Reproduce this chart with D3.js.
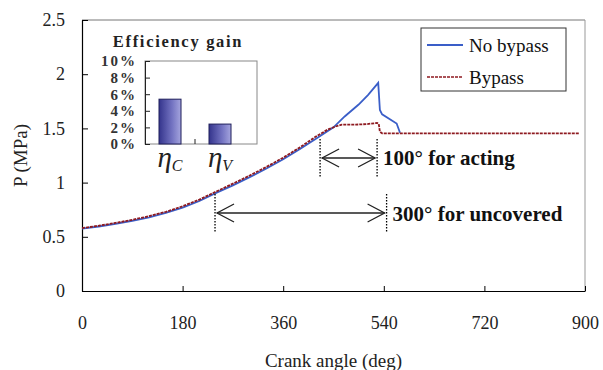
<!DOCTYPE html>
<html>
<head>
<meta charset="utf-8">
<script src="https://cdn.jsdelivr.net/npm/d3@7"></script>
<style>
  body { margin: 0; background: #fff; }
  svg text { font-family: "Liberation Serif", "DejaVu Serif", serif !important; }
</style>
</head>
<body>
<svg id="chart" width="603" height="370"></svg>
<script>
// pressure traces
var noBypassDeg = [0, 30, 60, 90, 120, 150, 180, 210, 240, 270, 300, 330, 360, 390, 420, 450, 470, 495, 512, 530, 533, 537, 563, 569];
var noBypassP   = [0.575, 0.595, 0.62, 0.648, 0.68, 0.72, 0.77, 0.83, 0.905, 0.975, 1.05, 1.13, 1.215, 1.31, 1.41, 1.51, 1.61, 1.72, 1.81, 1.92, 1.67, 1.63, 1.545, 1.46];

var bypassDeg = [0, 30, 60, 90, 120, 150, 180, 210, 240, 270, 300, 330, 360, 390, 420, 440, 455, 465, 490, 510, 528, 531, 533, 537, 890];
var bypassP   = [0.58, 0.602, 0.628, 0.657, 0.69, 0.73, 0.782, 0.843, 0.917, 0.99, 1.065, 1.145, 1.23, 1.325, 1.43, 1.49, 1.52, 1.535, 1.535, 1.54, 1.55, 1.54, 1.47, 1.455, 1.455];

var xTicks = [0, 180, 360, 540, 720, 900];
var yTicks = [0, 0.5, 1, 1.5, 2, 2.5];

// inset bar chart
var gainCats = ["C", "V"];
var gainVals = [5.4, 2.4];
var gainTicks = [0, 2, 4, 6, 8, 10];

// annotations (deg)
var acting = [426, 528];
var uncovered = [238, 545];

var svg = d3.select("#chart");
svg.append("rect").attr("width", 603).attr("height", 370).attr("fill", "#fff");

var x = d3.scaleLinear().domain([0, 900]).range([82, 585]);
var y = d3.scaleLinear().domain([0, 2.5]).range([291, 20]);

// frame: top and right in grey
svg.append("line").attr("x1", x(0)).attr("x2", x(900)).attr("y1", y(2.5)).attr("y2", y(2.5))
    .attr("stroke", "#777").attr("stroke-width", 1);
svg.append("line").attr("x1", x(900)).attr("x2", x(900)).attr("y1", y(2.5)).attr("y2", y(0))
    .attr("stroke", "#999").attr("stroke-width", 1);

var xAxis = svg.append("g")
    .attr("transform", "translate(0," + y(0) + ")")
    .call(d3.axisBottom(x).tickValues(xTicks).tickSize(-5).tickSizeOuter(0).tickPadding(25));
var yAxis = svg.append("g")
    .attr("transform", "translate(" + x(0) + ",0)")
    .call(d3.axisLeft(y).tickValues(yTicks).tickSize(-6).tickSizeOuter(0).tickPadding(17)
        .tickFormat(function(d) { return d; }));

[xAxis, yAxis].forEach(function(a) {
    a.select(".domain").attr("stroke", "#000").attr("stroke-width", 1.2);
    a.selectAll(".tick line").attr("stroke", "#000");
    a.selectAll("text").attr("font-size", 18).attr("fill", "#222");
});

svg.append("text")
    .attr("x", (x(0) + x(900)) / 2).attr("y", 367)
    .attr("text-anchor", "middle").attr("font-size", 19).attr("fill", "#222")
    .text("Crank angle (deg)");
svg.append("text")
    .attr("transform", "translate(27," + (y(1.25)) + ")rotate(-90)")
    .attr("text-anchor", "middle").attr("font-size", 19).attr("fill", "#222")
    .text("P (MPa)");

// curves
var line = d3.line().x(function(d) { return x(d[0]); }).y(function(d) { return y(d[1]); });
var blue = d3.zip(noBypassDeg, noBypassP);
var red = d3.zip(bypassDeg, bypassP);

svg.append("path").datum(blue).attr("d", line)
    .attr("fill", "none").attr("stroke", "#3a5ec8").attr("stroke-width", 1.8);
svg.append("path").datum(red).attr("d", line)
    .attr("fill", "none").attr("stroke", "#8e1a20").attr("stroke-width", 1.8)
    .attr("stroke-dasharray", "3,1");

// legend
var lg = svg.append("g");
lg.append("rect").attr("x", 421).attr("y", 28).attr("width", 145).attr("height", 63)
    .attr("fill", "#fff").attr("stroke", "#333").attr("stroke-width", 1);
lg.append("line").attr("x1", 427).attr("x2", 463).attr("y1", 45).attr("y2", 45)
    .attr("stroke", "#3a5ec8").attr("stroke-width", 1.8);
lg.append("line").attr("x1", 427).attr("x2", 463).attr("y1", 77).attr("y2", 77)
    .attr("stroke", "#8e1a20").attr("stroke-width", 1.6).attr("stroke-dasharray", "3,1");
lg.append("text").attr("x", 469).attr("y", 52).attr("font-size", 19).attr("fill", "#111").text("No bypass");
lg.append("text").attr("x", 469).attr("y", 84).attr("font-size", 19).attr("fill", "#111").text("Bypass");

// annotations
function span(a, yTop, yBot, yArrow, label, yText) {
    var g = svg.append("g");
    a.forEach(function(d) {
        g.append("line").attr("x1", x(d)).attr("x2", x(d)).attr("y1", yTop).attr("y2", yBot)
            .attr("stroke", "#000").attr("stroke-width", 1.3).attr("stroke-dasharray", "1.5,1.5");
    });
    var x0 = x(a[0]) + 2, x1 = x(a[1]) - 2;
    g.append("line").attr("x1", x0).attr("x2", x1).attr("y1", yArrow).attr("y2", yArrow)
        .attr("stroke", "#222").attr("stroke-width", 1.3);
    g.append("path")
        .attr("d", "M" + (x0 + 17) + "," + (yArrow - 9) + "L" + x0 + "," + yArrow + "L" + (x0 + 17) + "," + (yArrow + 9) +
            "M" + (x1 - 17) + "," + (yArrow - 9) + "L" + x1 + "," + yArrow + "L" + (x1 - 17) + "," + (yArrow + 9))
        .attr("fill", "none").attr("stroke", "#222").attr("stroke-width", 1.3);
    g.append("text").attr("x", x(a[1]) + 6).attr("y", yText)
        .attr("font-size", 21).attr("font-weight", "bold").attr("fill", "#111").text(label);
}
span(acting, 139, 178, 158, "100\u00b0 for acting", 165);
span(uncovered, 194, 233, 213, "300\u00b0 for uncovered", 221);

// inset
var inset = svg.append("g");
var bx = d3.scaleBand().domain(gainCats).range([145, 245]);
var by = d3.scaleLinear().domain([0, 10]).range([144, 61]);

var grad = svg.append("defs").append("linearGradient").attr("id", "barfill")
    .attr("x1", "0%").attr("x2", "100%").attr("y1", "0%").attr("y2", "0%");
grad.append("stop").attr("offset", "0%").attr("stop-color", "#34348c");
grad.append("stop").attr("offset", "60%").attr("stop-color", "#7474c2");
grad.append("stop").attr("offset", "100%").attr("stop-color", "#a5a5de");

inset.append("text").attr("x", 178).attr("y", 47).attr("text-anchor", "middle")
    .attr("font-size", 16.5).attr("font-weight", "bold").attr("letter-spacing", 1.7).attr("fill", "#222")
    .text("Efficiency gain");

inset.append("rect").attr("x", 145).attr("y", 61).attr("width", 112).attr("height", 83)
    .attr("fill", "#fff").attr("stroke", "#888").attr("stroke-width", 1);

var ia = inset.append("g").attr("transform", "translate(145,0)")
    .call(d3.axisLeft(by).tickValues(gainTicks).tickSize(-5).tickSizeOuter(0).tickPadding(8)
        .tickFormat(function(d) { return d + "%"; }));
ia.select(".domain").attr("stroke", "#222");
ia.selectAll(".tick line").attr("stroke", "#222");
ia.selectAll("text").attr("font-size", 15)
    .attr("font-weight", "bold").attr("letter-spacing", 2).attr("fill", "#333");

inset.append("line").attr("x1", bx("V")).attr("x2", bx("V")).attr("y1", 144).attr("y2", 139)
    .attr("stroke", "#222");

inset.selectAll(".bar").data(gainVals).enter().append("rect")
    .attr("class", "bar")
    .attr("x", function(d, i) { return bx(gainCats[i]) + bx.bandwidth() / 2 - 11; })
    .attr("width", 22)
    .attr("y", function(d) { return by(d); })
    .attr("height", function(d) { return by(0) - by(d); })
    .attr("fill", "url(#barfill)").attr("stroke", "#1e1e5a").attr("stroke-width", 1);

inset.selectAll(".cat").data(gainCats).enter().append("text")
    .attr("class", "cat")
    .attr("x", function(d) { return bx(d) + bx.bandwidth() / 2; })
    .attr("y", 167).attr("text-anchor", "middle")
    .attr("font-size", 29).attr("font-style", "italic").attr("fill", "#222")
    .each(function(d) {
        var t = d3.select(this);
        t.append("tspan").text("\u03b7");
        t.append("tspan").attr("font-size", 16).attr("dy", 4).text(d);
    });
</script>
</body>
</html>
